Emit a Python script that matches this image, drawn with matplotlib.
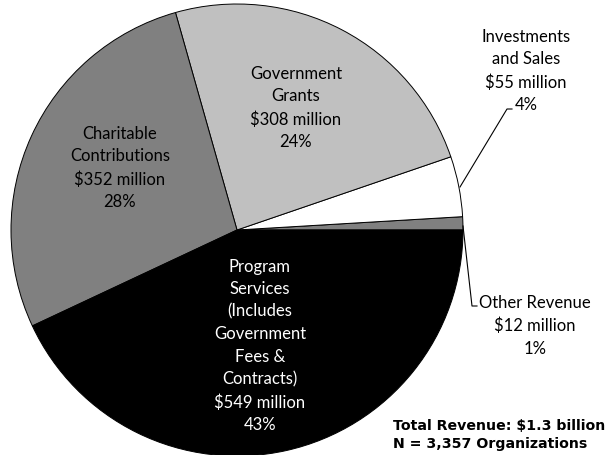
import matplotlib.pyplot as plt

# revenue sources, in millions of dollars (counterclockwise from 3 o'clock)
sources = ["Other Revenue", "Investments and Sales", "Government Grants",
           "Charitable Contributions", "Program Services"]
amounts = [12, 55, 308, 352, 549]
percents = [1, 4, 24, 28, 43]
colors = ["#808080", "#ffffff", "#c0c0c0", "#808080", "#000000"]

plt.rcParams['font.family'] = ['Lato', 'DejaVu Sans']

fig = plt.figure(figsize=(6.1, 4.56), dpi=100)
# pie centre ~ (237, 231) px, radius ~226 px
ax = fig.add_axes([11 / 610, -1 / 456, 452 / 610, 452 / 456])
ax.pie(amounts, colors=colors, startangle=0, counterclock=True,
       wedgeprops=dict(edgecolor="black", linewidth=0.7))
ax.set_xlim(-1, 1)
ax.set_ylim(-1, 1)
ax.set_aspect("equal")
ax.axis("off")


def px(x, y):
    # pixel coords of the picture -> data coords of the pie axes
    return (x - 237) / 226, (231 - y) / 226


fs = 12
ls = 1.5

ax.text(*px(296, 108), "Government\nGrants\n$%d million\n%d%%" % (amounts[2], percents[2]),
        ha="center", va="center", fontsize=fs, linespacing=ls)
ax.text(*px(120, 168), "Charitable\nContributions\n$%d million\n%d%%" % (amounts[3], percents[3]),
        ha="center", va="center", fontsize=fs, linespacing=ls)
ax.text(*px(260, 346), "Program\nServices\n(Includes\nGovernment\nFees &\nContracts)\n$%d million\n%d%%"
        % (amounts[4], percents[4]),
        ha="center", va="center", fontsize=fs, linespacing=ls, color="white")

# outside labels with leader lines
ax.text(*px(526, 71), "Investments\nand Sales\n$%d million\n%d%%" % (amounts[1], percents[1]),
        ha="center", va="center", fontsize=fs, linespacing=ls, clip_on=False)
lx, ly = zip(px(460, 188), px(507, 110), px(512, 110))
ax.plot(lx, ly, color="black", linewidth=0.8, clip_on=False)

ax.text(*px(535, 326), "Other Revenue\n$%d million\n%d%%" % (amounts[0], percents[0]),
        ha="center", va="center", fontsize=fs, linespacing=ls, clip_on=False)
lx, ly = zip(px(463, 227), px(472, 307), px(477, 307))
ax.plot(lx, ly, color="black", linewidth=0.8, clip_on=False)

fig.text(393 / 610, 1 - 435 / 456, "Total Revenue: $1.3 billion\nN = 3,357 Organizations",
         ha="left", va="center", fontsize=10.2, fontweight="bold", linespacing=1.35,
         family="DejaVu Sans")

fig.savefig("out.png", dpi=100)
